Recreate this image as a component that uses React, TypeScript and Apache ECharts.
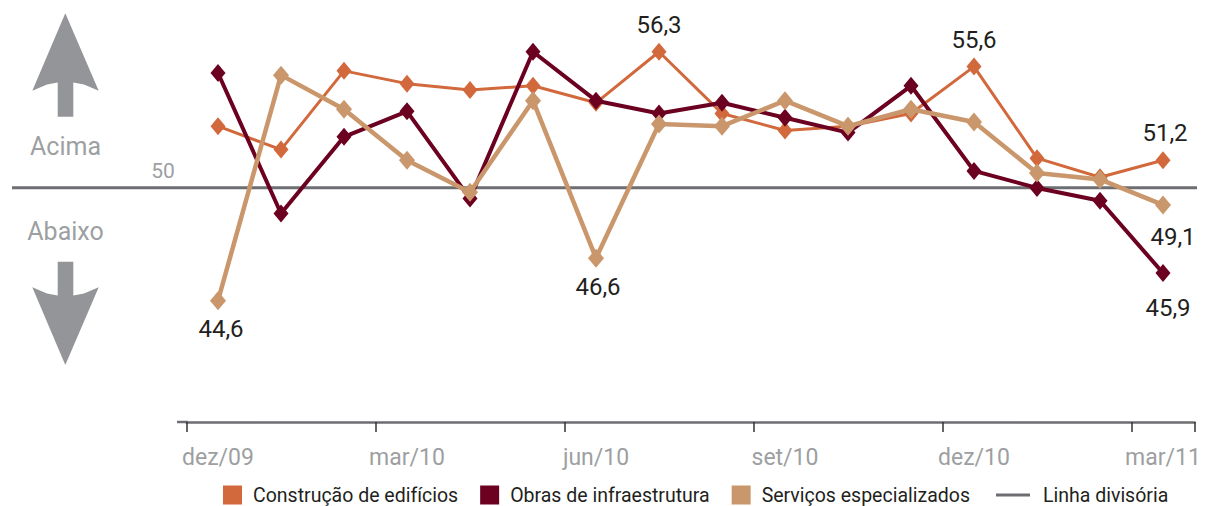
import React, { useEffect, useRef } from "react";
import * as echarts from "echarts";

const categories = ["dez/09", "jan/10", "fev/10", "mar/10", "abr/10", "mai/10", "jun/10", "jul/10", "ago/10", "set/10", "out/10", "nov/10", "dez/10", "jan/11", "fev/11", "mar/11"];
const construcao = [52.8, 51.7, 55.4, 54.8, 54.5, 54.7, 53.9, 56.3, 53.4, 52.6, 52.8, 53.4, 55.6, 51.3, 50.4, 51.2];
const obras = [55.3, 48.7, 52.3, 53.5, 49.4, 56.3, 54.0, 53.4, 53.9, 53.2, 52.5, 54.7, 50.7, 49.9, 49.3, 45.9];
const servicos = [44.6, 55.2, 53.6, 51.2, 49.7, 54.0, 46.6, 52.9, 52.8, 54.0, 52.8, 53.6, 53.0, 50.6, 50.3, 49.1];
const dividerValue = 50;
const seriesNames = ["Construção de edifícios", "Obras de infraestrutura", "Serviços especializados", "Linha divisória"];

// labelled points: index -> [position, distance, dx]
const construcaoLabels: Record<number, [string, number, number]> = { 7: ["top", 6, 0], 12: ["top", 6, 0], 15: ["top", 6, 2] };
const obrasLabels: Record<number, [string, number, number]> = { 15: ["bottom", 14, 5] };
const servicosLabels: Record<number, [string, number, number]> = { 0: ["bottom", 7, 3], 6: ["bottom", 7, 2], 15: ["bottom", 11, 10] };

const FONT = "Roboto, 'Liberation Sans', sans-serif";
const fmt = (v: number) => v.toFixed(1).replace(".", ",");

function withLabels(values: number[], labels: Record<number, [string, number, number]>) {
  return values.map((v, i) => {
    const l = labels[i];
    if (!l) return v;
    return {
      value: v,
      label: {
        show: true,
        position: l[0],
        distance: l[1],
        offset: [l[2], 0],
        formatter: (p: any) => fmt(p.value),
        color: "#231f20",
        fontSize: 24,
        fontFamily: FONT,
      },
    };
  });
}

export default function App() {
  const ref = useRef<HTMLDivElement>(null);
  useEffect(() => {
    if (!ref.current) return;
    const chart = echarts.init(ref.current, undefined, { renderer: "svg" });
    const yMin = 39;
    const yMax = 58.5;
    const gridTop = 4.9;
    const gridHeight = 415;
    const grey = "#939598";
    chart.setOption({
      animation: false,
      backgroundColor: "#ffffff",
      textStyle: { fontFamily: FONT },
      grid: [
        { left: 186.5, width: 1008, top: gridTop, height: gridHeight },
        { left: 12, right: 8, top: gridTop + 2, height: gridHeight },
      ],
      xAxis: [
        {
          type: "category",
          gridIndex: 0,
          data: categories,
          boundaryGap: true,
          offset: 2,
          axisLine: { show: true, lineStyle: { color: "#6d6e71", width: 2.5 } },
          axisTick: { show: true, interval: 2, length: 10, lineStyle: { color: "#333", width: 1.5 } },
          axisLabel: { interval: 2, color: "#9d9fa2", fontSize: 23, margin: 24, fontFamily: FONT },
          splitLine: { show: false },
        },
        { type: "value", gridIndex: 1, min: 0, max: 1, show: false },
      ],
      yAxis: [
        { type: "value", gridIndex: 0, min: yMin, max: yMax, show: false, splitLine: { show: false } },
        { type: "value", gridIndex: 1, min: yMin, max: yMax, show: false, splitLine: { show: false } },
      ],
      legend: [
        {
          data: seriesNames.slice(0, 3).map((n) => ({ name: n, icon: "rect" })),
          left: 218,
          top: 480,
          itemWidth: 19,
          itemHeight: 19,
          itemGap: 22,
          selectedMode: false,
          textStyle: { color: "#231f20", fontSize: 19.5, fontFamily: FONT, padding: [0, 0, 0, 6] },
        },
        {
          data: [{ name: seriesNames[3], icon: "rect" }],
          left: 991,
          top: 480,
          itemWidth: 34,
          itemHeight: 3,
          selectedMode: false,
          textStyle: { color: "#231f20", fontSize: 19.5, fontFamily: FONT, padding: [0, 0, 0, 8] },
        },
      ],
      series: [
        {
          name: seriesNames[3],
          type: "line",
          xAxisIndex: 1,
          yAxisIndex: 1,
          data: [[0, dividerValue], [1, dividerValue]],
          symbol: "none",
          color: "#6d6e71",
          lineStyle: { color: "#6d6e71", width: 3 },
          z: 1,
          silent: true,
        },
        {
          name: seriesNames[0],
          type: "line",
          data: withLabels(construcao, construcaoLabels),
          color: "#d2693c",
          symbol: "diamond",
          symbolSize: [15, 18],
          lineStyle: { width: 3, color: "#d2693c" },
          itemStyle: { color: "#d2693c" },
          z: 2,
        },
        {
          name: seriesNames[1],
          type: "line",
          data: withLabels(obras, obrasLabels),
          color: "#6b0020",
          symbol: "diamond",
          symbolSize: [15, 18],
          lineStyle: { width: 4, color: "#6b0020" },
          itemStyle: { color: "#6b0020" },
          z: 3,
        },
        {
          name: seriesNames[2],
          type: "line",
          data: withLabels(servicos, servicosLabels),
          color: "#c9976b",
          symbol: "diamond",
          symbolSize: [16, 19],
          lineStyle: { width: 4.5, color: "#c9976b" },
          itemStyle: { color: "#c9976b" },
          z: 4,
        },
      ],
      graphic: [
        {
          type: "polygon",
          shape: {
            points: [[65.3, 13.3], [98.7, 90.7], [84, 84.5], [73.3, 82.5], [73.3, 116.7], [57.7, 116.7], [57.7, 82.5], [47, 84.5], [32.3, 90.7]],
          },
          style: { fill: grey },
        },
        {
          type: "polygon",
          shape: {
            points: [[65.3, 365], [98.7, 287.3], [84, 293.5], [73.3, 295.5], [73.3, 261.7], [57.7, 261.7], [57.7, 295.5], [47, 293.5], [32.3, 287.3]],
          },
          style: { fill: grey },
        },
        {
          type: "text",
          x: 65.5,
          y: 146,
          style: { text: "Acima", fill: "#9d9fa2", fontSize: 25, fontFamily: FONT, align: "center", verticalAlign: "middle" },
        },
        {
          type: "text",
          x: 65.5,
          y: 231,
          style: { text: "Abaixo", fill: "#9d9fa2", fontSize: 25, fontFamily: FONT, align: "center", verticalAlign: "middle" },
        },
        {
          type: "text",
          x: 163,
          y: 171,
          style: { text: "50", fill: "#9d9fa2", fontSize: 21, fontFamily: FONT, align: "center", verticalAlign: "middle" },
        },
        {
          type: "line",
          shape: { x1: 177, y1: 422, x2: 188, y2: 422 },
          style: { stroke: "#6d6e71", lineWidth: 2.5 },
        },
      ],
    });
    return () => chart.dispose();
  }, []);
  return <div ref={ref} style={{ position: "absolute", left: 0, top: 0, width: 1205, height: 506 }} />;
}
